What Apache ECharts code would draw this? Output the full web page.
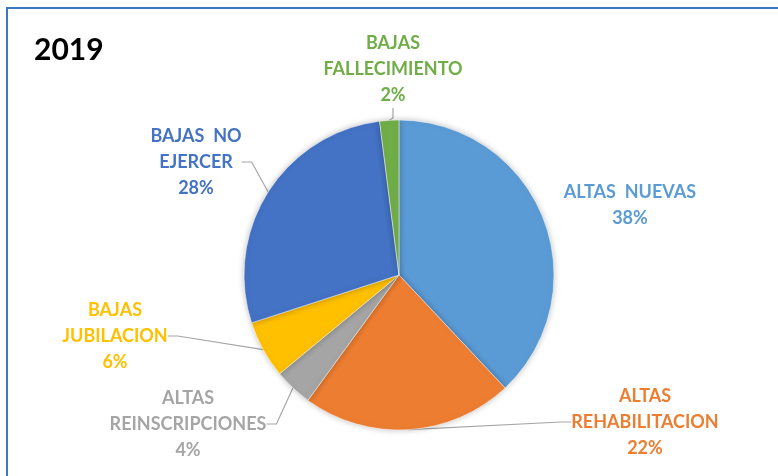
<!DOCTYPE html>
<html>
<head>
<meta charset="utf-8">
<script src="https://cdn.jsdelivr.net/npm/echarts@6/dist/echarts.min.js"></script>
<style>
  html, body { margin: 0; padding: 0; background: #fff; }
  #chart { width: 778px; height: 476px; }
</style>
</head>
<body>
<div id="chart"></div>
<script>
const categories = ['ALTAS  NUEVAS', 'ALTAS\nREHABILITACION', 'ALTAS\nREINSCRIPCIONES', 'BAJAS\nJUBILACION', 'BAJAS  NO\nEJERCER', 'BAJAS\nFALLECIMIENTO'];
const values = [38, 22, 4, 6, 28, 2];
const colors = ['#5B9BD5', '#ED7D31', '#A5A5A5', '#FFC000', '#4472C4', '#70AD47'];
// where each label sits (centre of the text block)
const labelSpots = [[630, 205], [645, 422], [188, 424], [115, 336], [196, 162], [393, 69]];

const chart = echarts.init(document.getElementById('chart'));

const pieData = categories.map((name, i) => ({
  name,
  value: values[i],
  itemStyle: { color: colors[i] },
  label: { color: colors[i] },
  labelLine: { show: i !== 0 }
}));

chart.setOption({
  animation: false,
  title: {
    text: '2019',
    left: 29,
    top: 30,
    textStyle: { fontFamily: 'Lato', fontWeight: 'bold', fontSize: 30, color: '#000' }
  },
  graphic: [{
    type: 'polyline',
    shape: { points: [[7, 480], [7, 8], [790, 8]] },
    style: { stroke: '#3B78C0', lineWidth: 2, fill: null }
  }],
  series: [{
    type: 'pie',
    center: [399, 275],
    radius: 155,
    startAngle: 90,
    clockwise: true,
    data: pieData,
    itemStyle: {
      borderColor: '#fff',
      borderWidth: 0.5,
      shadowBlur: 6,
      shadowColor: 'rgba(0,0,0,0.25)'
    },
    label: {
      show: true,
      position: 'outside',
      formatter: '{b}\n{d}%',
      fontFamily: 'Lato',
      fontWeight: 'bold',
      fontSize: 18,
      lineHeight: 26,
      align: 'center'
    },
    labelLine: {
      show: true,
      length: 15,
      length2: 10,
      lineStyle: { color: '#A6A6A6', width: 1.2 }
    },
    labelLayout: function (params) {
      const spot = labelSpots[params.dataIndex];
      return { x: spot[0], y: spot[1], align: 'center', verticalAlign: 'middle' };
    }
  }]
});

window.addEventListener('resize', () => chart.resize());
</script>
</body>
</html>
